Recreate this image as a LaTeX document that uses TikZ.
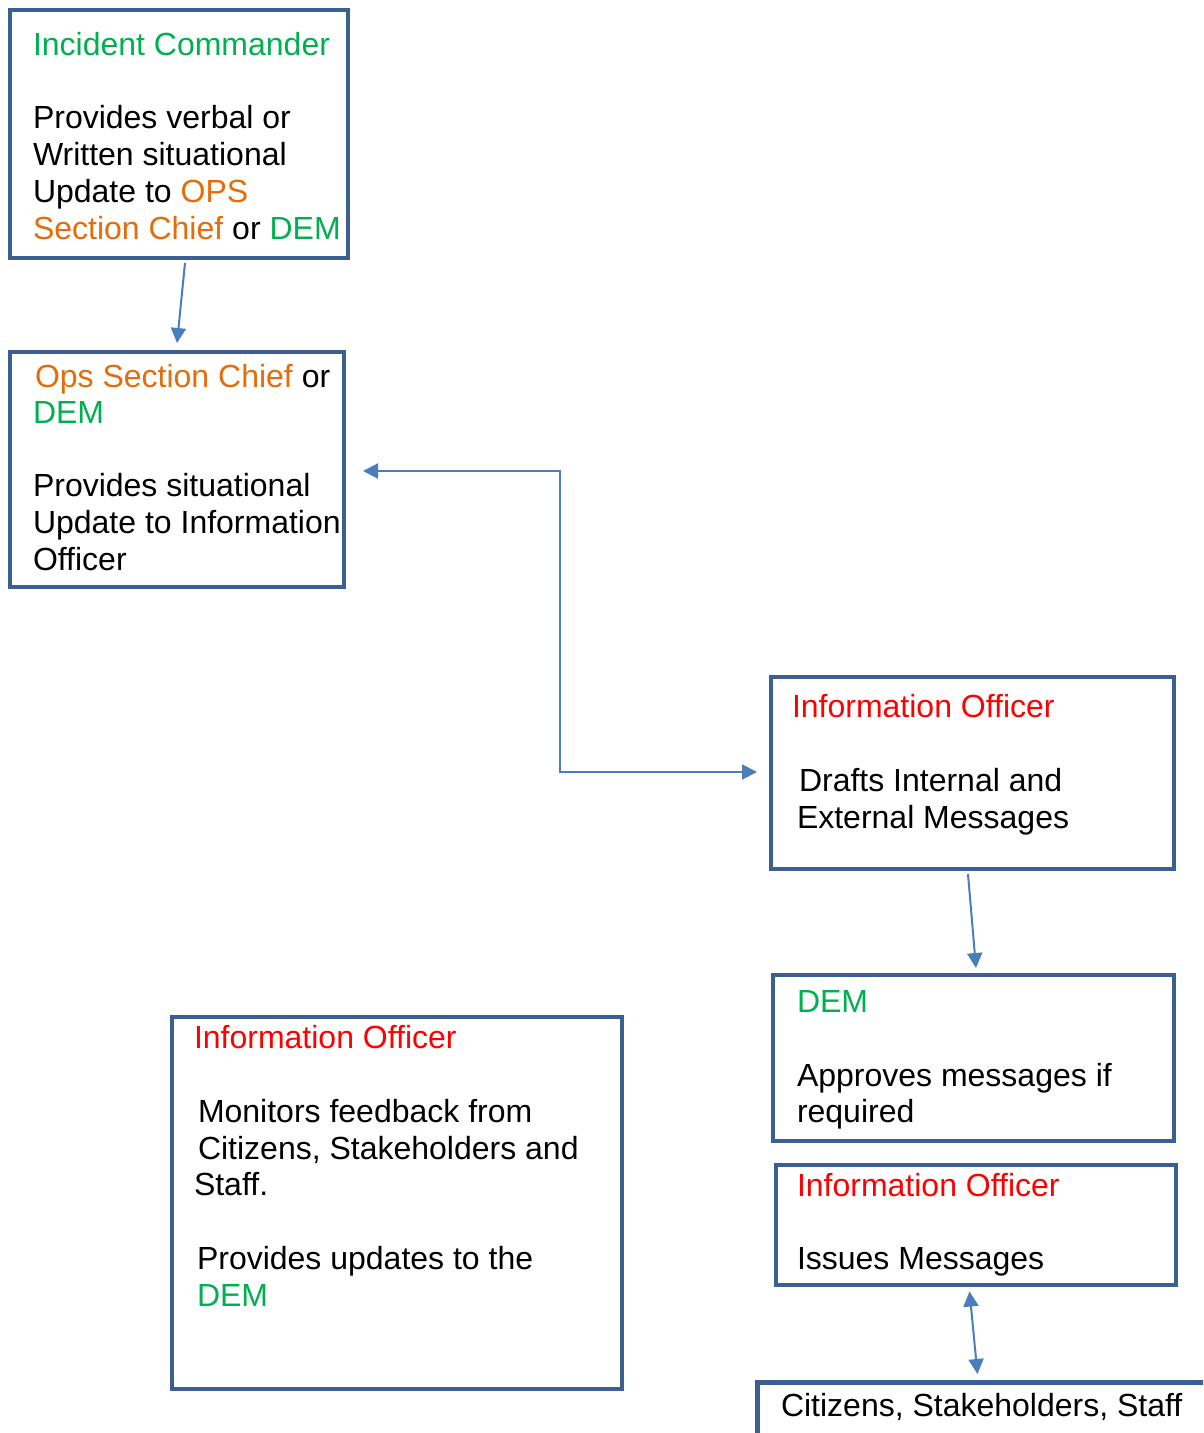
\documentclass[tikz,border=0pt]{standalone}
\usepackage{fontspec}
\setmainfont{Liberation Sans}
\usetikzlibrary{arrows.meta,calc}
\definecolor{boxblue}{HTML}{3C5F91}
\definecolor{arrowblue}{HTML}{4A7EBB}
\definecolor{demgreen}{HTML}{00B050}
\definecolor{opsorange}{HTML}{E46C0A}
\definecolor{iored}{HTML}{FF0000}
\newcommand{\dem}[1]{\textcolor{demgreen}{#1}}
\newcommand{\ops}[1]{\textcolor{opsorange}{#1}}
\newcommand{\ioff}[1]{\textcolor{iored}{#1}}
\begin{document}
\begin{tikzpicture}[x=1pt,y=-1pt,
  box/.style={draw=boxblue, line width=4.5pt, rectangle, inner sep=0pt, outer sep=0pt, anchor=north west},
  txt/.style={anchor=base west, inner sep=0pt, outer sep=0pt, font=\fontsize{32}{37}\selectfont},
  link/.style={draw=arrowblue, line width=2pt, -{Triangle[length=15pt,width=15pt]}},
  link2/.style={draw=arrowblue, line width=2pt, {Triangle[length=15pt,width=15pt]}-{Triangle[length=15pt,width=15pt]}}]
\useasboundingbox (0,0) rectangle (1203,1433);
\clip (0,0) rectangle (1203,1433);

% boxes
\node[box, minimum width=338pt, minimum height=248pt] (ic) at (10,10) {};
\node[box, minimum width=334pt, minimum height=235pt] (osc) at (10,352) {};
\node[box, minimum width=403pt, minimum height=192pt] (iodraft) at (771,677) {};
\node[box, minimum width=401pt, minimum height=166pt] (demok) at (773,975) {};
\node[box, minimum width=400pt, minimum height=120pt] (ioissue) at (776,1165) {};
\node[box, minimum width=450pt, minimum height=372pt] (iomon) at (172,1017) {};
\node[box, minimum width=480pt, minimum height=90pt] (public) at (757.5,1382.5) {};

% Incident Commander
\node[txt] (ic1) at (33,55) {\dem{Incident Commander}};
\node[txt] (ic2) at (33,128) {Provides verbal or};
\node[txt] (ic3) at (33,165) {Written situational};
\node[txt] (ic4) at (33,202) {Update to \ops{OPS}};
\node[txt] (ic5) at (33,239) {\ops{Section Chief} or \dem{DEM}};

% Ops Section Chief or DEM
\node[txt] (osc1) at (35,387) {\ops{Ops Section Chief} or};
\node[txt] (osc2) at (33,423) {\dem{DEM}};
\node[txt] (osc3) at (33,496) {Provides situational};
\node[txt] (osc4) at (33,533) {Update to Information};
\node[txt] (osc5) at (33,570) {Officer};

% Information Officer drafts
\node[txt] (iod1) at (792,717) {\ioff{Information Officer}};
\node[txt] (iod2) at (799,791) {Drafts Internal and};
\node[txt] (iod3) at (797,828) {External Messages};

% DEM approval
\node[txt] (dem1) at (797,1012) {\dem{DEM}};
\node[txt] (dem2) at (797,1086) {Approves messages if};
\node[txt] (dem3) at (797,1122) {required};

% Information Officer issues
\node[txt] (ioi1) at (797,1196) {\ioff{Information Officer}};
\node[txt] (ioi2) at (797,1269) {Issues Messages};

% Information Officer monitors
\node[txt] (iom1) at (194,1048) {\ioff{Information Officer}};
\node[txt] (iom2) at (198,1122) {Monitors feedback from};
\node[txt] (iom3) at (198,1159) {Citizens, Stakeholders and};
\node[txt] (iom4) at (194,1195) {Staff.};
\node[txt] (iom5) at (197,1269) {Provides updates to the};
\node[txt] (iom6) at (197,1306) {\dem{DEM}};

% public
\node[txt] (pub1) at (781,1416) {Citizens, Stakeholders, Staff};

% connector end points
\coordinate (icout) at (185,263);
\coordinate (oscin) at (177,343);
\coordinate (oscside) at (363,471);
\coordinate (iodside) at (757,772);
\coordinate (iodout) at (968,874);
\coordinate (demin) at (976,968);
\coordinate (ioiout) at (969.5,1291.5);
\coordinate (pubin) at (977.5,1374);

% connectors
\draw[link] (icout) -- (oscin);
\draw[link2] (oscside) -| (560,620) |- (iodside);
\draw[link] (iodout) -- (demin);
\draw[link2] (ioiout) -- (pubin);
\end{tikzpicture}
\end{document}
